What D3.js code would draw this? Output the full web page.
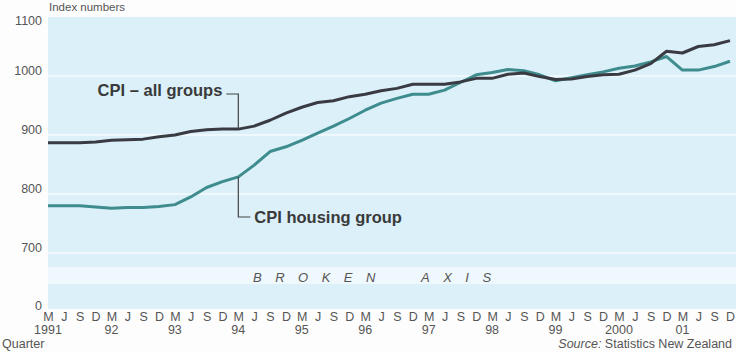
<!DOCTYPE html>
<html>
<head>
<meta charset="utf-8">
<script src="https://cdn.jsdelivr.net/npm/d3@7"></script>
<style>
  body { margin: 0; background: #fdfdfd; }
  svg { display: block; font-family: "Liberation Sans", Arial, sans-serif; }
</style>
</head>
<body>
<div class="chart"></div>
<script>
// quarterly index numbers, Mar 1991 .. Dec 2001
const quarters = ["M","J","S","D"];
const years = ["1991","92","93","94","95","96","97","98","99","2000","01"];

const cpiAll = [
  887, 887, 887, 888, 891, 892, 893, 897, 900, 906, 909, 910,
  910, 915, 925, 937, 947, 955, 958, 965, 969, 975, 979, 986,
  986, 986, 990, 996, 996, 1003, 1005, 999, 994, 995, 999, 1002,
  1003, 1010, 1021, 1042, 1039, 1050, 1053, 1060
];
const cpiHousing = [
  780, 780, 780, 778, 776, 777, 777, 779, 782, 795, 811, 821,
  829, 849, 872, 880, 891, 903, 915, 928, 942, 954, 962, 969,
  969, 976, 989, 1002, 1006, 1011, 1009, 1002, 992, 997, 1002, 1007,
  1013, 1017, 1024, 1033, 1010, 1010, 1016, 1025
];
const yTicks = [700, 800, 900, 1000, 1100];

const width = 736, height = 353;
const margin = {top: 17, right: 0, bottom: 44, left: 48};
const plotBottom = height - margin.bottom;

const svg = d3.select(".chart").append("svg")
  .attr("width", width)
  .attr("height", height);

const labels = d3.range(cpiAll.length).map(i => quarters[i % 4]);

const x = d3.scalePoint()
  .domain(d3.range(cpiAll.length))
  .range([48, 730]);

const y = d3.scaleLinear()
  .domain([700, 1100])
  .range([253, 17]);

// plot background
svg.append("rect")
  .attr("x", margin.left).attr("y", margin.top)
  .attr("width", width - margin.left)
  .attr("height", plotBottom - margin.top)
  .attr("fill", "#dbf0f9");

// broken axis band
svg.append("rect")
  .attr("x", margin.left).attr("y", 267)
  .attr("width", width - margin.left).attr("height", 17)
  .attr("fill", "#eff8fc");

svg.append("text")
  .attr("x", 253).attr("y", 282)
  .attr("font-size", 13).attr("font-style", "italic")
  .attr("fill", "#555")
  .attr("letter-spacing", "13.5px")
  .text("BROKEN");

svg.append("text")
  .attr("x", 421).attr("y", 282)
  .attr("font-size", 13).attr("font-style", "italic")
  .attr("fill", "#555")
  .attr("letter-spacing", "13.5px")
  .text("AXIS");

// gridlines
svg.append("g")
  .selectAll("line")
  .data(yTicks.slice(0, -1))
  .join("line")
    .attr("x1", margin.left).attr("x2", width)
    .attr("y1", d => y(d)).attr("y2", d => y(d))
    .attr("stroke", "#f4fbfe").attr("stroke-width", 1.5);

// y axis
const yAxis = svg.append("g")
  .attr("transform", `translate(${margin.left},0)`)
  .call(d3.axisLeft(y).tickValues(yTicks).tickSize(0).tickPadding(6).tickFormat(d3.format("d")));
yAxis.select(".domain").remove();
yAxis.selectAll("text")
  .attr("font-size", 12.5).attr("fill", "#555")
  .attr("font-family", "Liberation Sans, Arial, sans-serif")
  .attr("dy", "-0.1em");
yAxis.select(".tick:last-of-type text").attr("dy", "0.6em");

svg.append("text")
  .attr("x", 42).attr("y", 310)
  .attr("text-anchor", "end")
  .attr("font-size", 12.5).attr("fill", "#555")
  .text("0");

svg.append("text")
  .attr("x", 49).attr("y", 11)
  .attr("font-size", 11.5).attr("fill", "#555")
  .text("Index numbers");

// x axis
const xAxis = svg.append("g")
  .attr("transform", `translate(0,${plotBottom})`)
  .call(d3.axisBottom(x).tickSize(0).tickPadding(3).tickFormat(i => labels[i]));
xAxis.select(".domain").remove();
xAxis.selectAll("text")
  .attr("font-size", 12.5).attr("fill", "#555")
  .attr("font-family", "Liberation Sans, Arial, sans-serif");

svg.append("g")
  .selectAll("text")
  .data(years)
  .join("text")
    .attr("x", (d, i) => x(i * 4))
    .attr("y", 334)
    .attr("text-anchor", "middle")
    .attr("font-size", 12.5).attr("fill", "#555")
    .text(d => d);

svg.append("text")
  .attr("x", 2).attr("y", 348)
  .attr("font-size", 12.5).attr("fill", "#555")
  .text("Quarter");

const src = svg.append("text")
  .attr("x", 732).attr("y", 348)
  .attr("text-anchor", "end")
  .attr("font-size", 12.5).attr("fill", "#555");
src.append("tspan").attr("font-style", "italic").text("Source:");
src.append("tspan").text(" Statistics New Zealand");

// lines
const line = d3.line()
  .x((d, i) => x(i))
  .y(d => y(d));

svg.append("path")
  .datum(cpiHousing)
  .attr("fill", "none")
  .attr("stroke", "#3e8c8e")
  .attr("stroke-width", 3)
  .attr("stroke-linejoin", "round")
  .attr("d", line);

svg.append("path")
  .datum(cpiAll)
  .attr("fill", "none")
  .attr("stroke", "#3a3b42")
  .attr("stroke-width", 3)
  .attr("stroke-linejoin", "round")
  .attr("d", line);

// annotations
const labelX = x(12);
svg.append("path")
  .attr("d", `M${labelX - 12},94 H${labelX} V${y(cpiAll[12])}`)
  .attr("fill", "none").attr("stroke", "#444").attr("stroke-width", 1.2);
svg.append("text")
  .attr("x", labelX - 16).attr("y", 96)
  .attr("text-anchor", "end")
  .attr("font-size", 16.5).attr("font-weight", "bold")
  .attr("fill", "#3a3a3a")
  .text("CPI \u2013 all groups");

svg.append("path")
  .attr("d", `M${labelX},${y(cpiHousing[12])} V217 H${labelX + 12}`)
  .attr("fill", "none").attr("stroke", "#444").attr("stroke-width", 1.2);
svg.append("text")
  .attr("x", labelX + 16).attr("y", 223)
  .attr("font-size", 16.5).attr("font-weight", "bold")
  .attr("fill", "#3a3a3a")
  .text("CPI housing group");
</script>
</body>
</html>
